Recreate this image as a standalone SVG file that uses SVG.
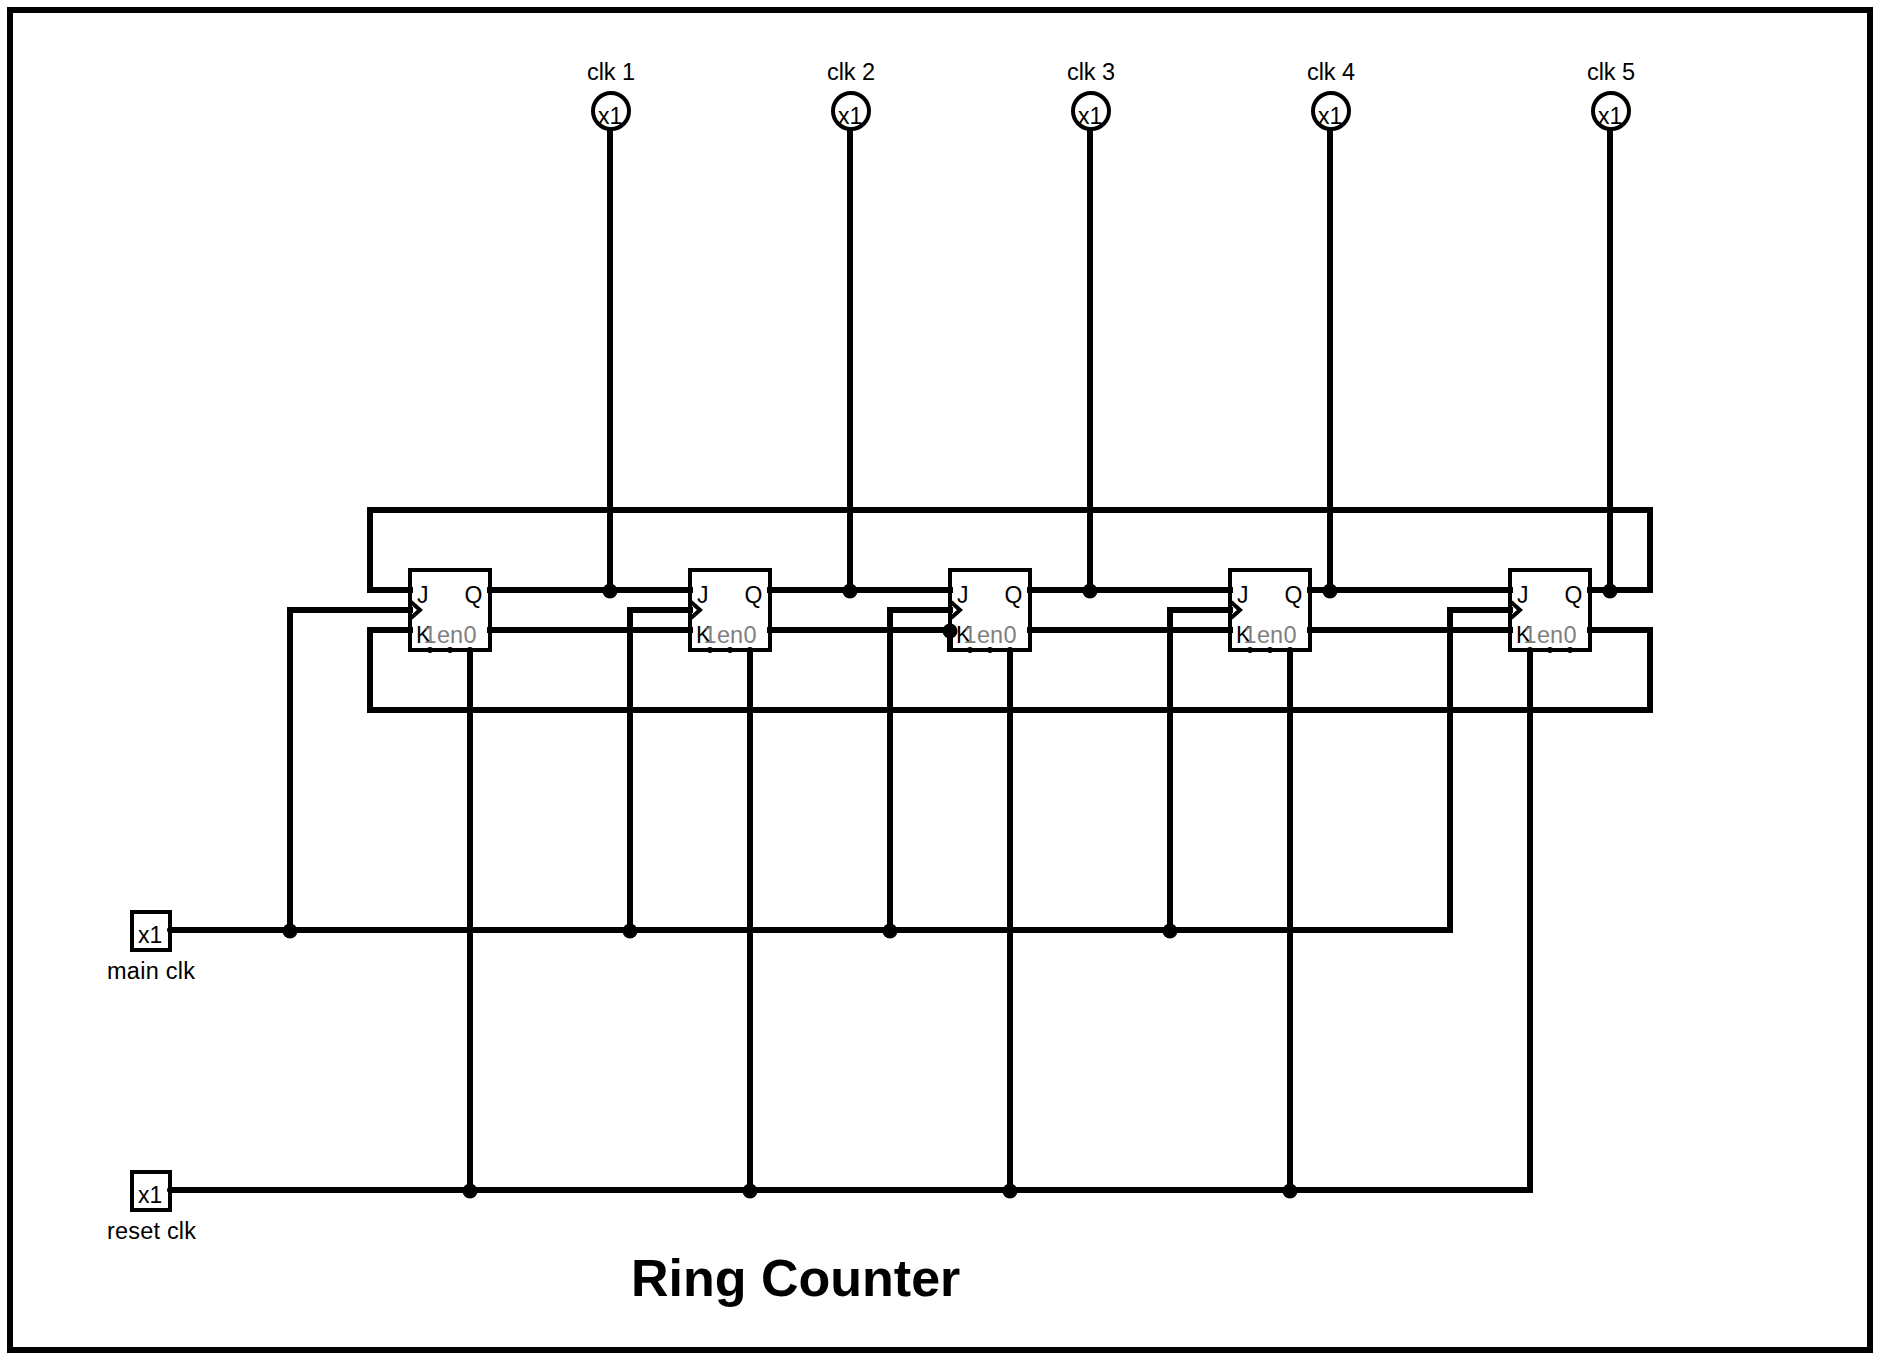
<svg xmlns="http://www.w3.org/2000/svg" xmlns:xlink="http://www.w3.org/1999/xlink" width="1882" height="1362" viewBox="0 0 1882 1362">
<defs>
<style>
text{font-family:"Liberation Sans",Arial,sans-serif;font-size:23.5px;fill:#000}
.g{fill:#808080;text-anchor:middle}
.x{font-size:23px}
.w{fill:none;stroke:#000;stroke-width:6;stroke-linecap:square;stroke-linejoin:miter}
.b{fill:#fff;stroke:#000;stroke-width:4}
.c{fill:none;stroke:#000;stroke-width:4}
.t{font-size:52px;font-weight:bold}
</style>
<g id="ff">
<rect class="b" x="0" y="0" width="80" height="80"/>
<path class="c" d="M1 32L10 40L1 48"/>
<circle cx="0" cy="20" r="3"/><circle cx="0" cy="60" r="3"/>
<circle cx="80" cy="20" r="3"/><circle cx="80" cy="60" r="3"/>
<circle cx="20" cy="80" r="3"/><circle cx="40" cy="80" r="3"/><circle cx="60" cy="80" r="3"/>
<text class="x" x="7" y="33">J</text>
<text class="x" x="54.5" y="33">Q</text>
<text class="x" x="6" y="73">K</text>
<text class="g" x="20" y="73">1</text>
<text class="g" x="40" y="73">en</text>
<text class="g" x="60" y="73">0</text>
</g>
<g id="probe">
<circle class="b" cx="1" cy="-19" r="18"/>
<text class="x" x="-12" y="-6">x1</text>
</g>
</defs>
<rect width="1882" height="1362" fill="#fff"/>
<rect id="frame" x="10" y="10" width="1860" height="1340" fill="none" stroke="#000" stroke-width="6"/>
<g id="ff1"><use xlink:href="#ff" href="#ff" x="410" y="570"/></g>
<g id="ff2"><use xlink:href="#ff" href="#ff" x="690" y="570"/></g>
<g id="ff3"><use xlink:href="#ff" href="#ff" x="950" y="570"/></g>
<g id="ff4"><use xlink:href="#ff" href="#ff" x="1230" y="570"/></g>
<g id="ff5"><use xlink:href="#ff" href="#ff" x="1510" y="570"/></g>
<g id="connectors">
<path class="w" d="M410 590H370V510H1650V590H1590"/>
<path class="w" d="M410 630H370V710H1650V630H1590"/>
<path class="w" d="M490 590H690M770 590H950M1030 590H1230M1310 590H1510"/>
<path class="w" d="M490 630H690M770 630H950M1030 630H1230M1310 630H1510"/>
<path class="w" d="M610 130V590M850 130V590M1090 130V590M1330 130V590M1610 130V590"/>
<path class="w" d="M170 930H1450V610H1510M290 930V610H410M630 930V610H690M890 930V610H950M1170 930V610H1230"/>
<path class="w" d="M170 1190H1530V652M470 1190V652M750 1190V652M1010 1190V652M1290 1190V652"/>
<path class="w" d="M950 630V649"/>
<g id="junctions">
<circle cx="610" cy="591" r="7.5"/><circle cx="850" cy="591" r="7.5"/><circle cx="1090" cy="591" r="7.5"/><circle cx="1330" cy="591" r="7.5"/><circle cx="1610" cy="591" r="7.5"/>
<circle cx="950" cy="631" r="7.5"/>
<circle cx="290" cy="931" r="7.5"/><circle cx="630" cy="931" r="7.5"/><circle cx="890" cy="931" r="7.5"/><circle cx="1170" cy="931" r="7.5"/>
<circle cx="470" cy="1191" r="7.5"/><circle cx="750" cy="1191" r="7.5"/><circle cx="1010" cy="1191" r="7.5"/><circle cx="1290" cy="1191" r="7.5"/>
</g>
</g>
<g id="clk1"><use xlink:href="#probe" href="#probe" x="610" y="130"/><text x="587" y="80" textLength="48">clk 1</text></g>
<g id="clk2"><use xlink:href="#probe" href="#probe" x="850" y="130"/><text x="827" y="80" textLength="48">clk 2</text></g>
<g id="clk3"><use xlink:href="#probe" href="#probe" x="1090" y="130"/><text x="1067" y="80" textLength="48">clk 3</text></g>
<g id="clk4"><use xlink:href="#probe" href="#probe" x="1330" y="130"/><text x="1307" y="80" textLength="48">clk 4</text></g>
<g id="clk5"><use xlink:href="#probe" href="#probe" x="1610" y="130"/><text x="1587" y="80" textLength="48">clk 5</text></g>
<g id="main-clk"><rect class="b" x="132" y="912" width="38" height="38"/><circle cx="170" cy="930" r="3"/><text class="x" x="138" y="943">x1</text><text x="107" y="979" textLength="88">main clk</text></g>
<g id="reset-clk"><rect class="b" x="132" y="1172" width="38" height="38"/><circle cx="170" cy="1190" r="3"/><text class="x" x="138" y="1203">x1</text><text x="107" y="1239" textLength="89">reset clk</text></g>
<text id="title" class="t" x="631" y="1296">Ring Counter</text>
</svg>
